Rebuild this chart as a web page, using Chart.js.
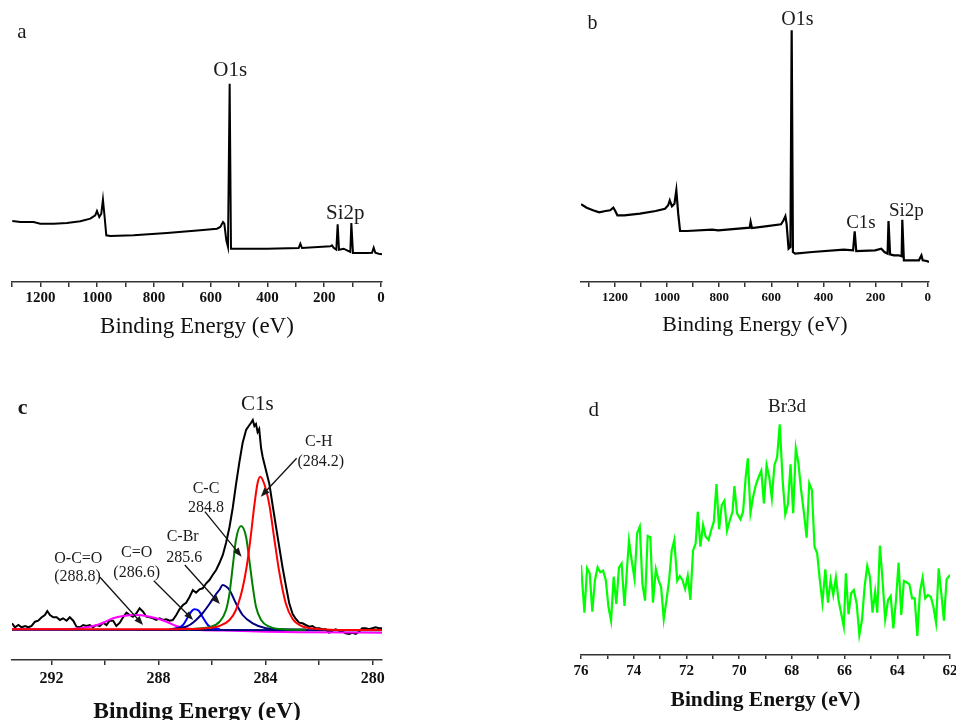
<!DOCTYPE html>
<html>
<head>
<meta charset="utf-8">
<title>XPS spectra</title>
<script src="https://cdn.jsdelivr.net/npm/chart.js@4.4.1/dist/chart.umd.min.js"></script>
<style>
  html, body { margin: 0; padding: 0; background: #fff; }
  #page { position: relative; width: 956px; height: 720px; overflow: hidden; background: #fff; }
  canvas { position: absolute; }
</style>
</head>
<body>
<div id="page">
  <canvas id="panelA" width="478" height="345" style="left:0;top:0"></canvas>
  <canvas id="panelB" width="485" height="345" style="left:478px;top:0"></canvas>
  <canvas id="panelC" width="478" height="380" style="left:0;top:360px"></canvas>
  <canvas id="panelD" width="485" height="360" style="left:478px;top:360px"></canvas>
</div>
<script>
const SERIF = '"Liberation Serif", "Times New Roman", serif';

/* -------- a : survey spectrum -------- */
const surveyAEnergy = [1299, 1270.8, 1223.9, 1200.4, 1153.4, 1106.4, 1059.4, 1024.2, 1006.6, 1000.7, 992.5, 985.4, 979.6, 973.7, 967.8, 953.7, 871.5, 754.0, 636.6, 577.9, 566.1, 556.7, 552.0, 545.0, 539.1, 533.2, 528.5, 519.1, 401.7, 290.1, 284.2, 278.4, 178.5, 172.7, 166.8, 157.4, 152.7, 148.0, 131.5, 119.8, 108.1, 104.5, 98.7, 49.3, 31.7, 25.8, 20.0, 8.2, -3.5];
const surveyAIntensity = [61, 60, 60, 58.3, 58.3, 59, 60.7, 63.3, 66.7, 71, 65, 68.3, 82.3, 65, 46.7, 46, 46.7, 49, 51.7, 53.3, 55, 60, 58.3, 41.7, 35, 198.3, 33.3, 33.3, 33.3, 34, 38.3, 34, 35.7, 36.7, 34.3, 32.3, 57.7, 32.3, 33.3, 31.7, 30, 59, 29, 29, 29.3, 34.3, 29.3, 28.3, 27.7];
const surveyTicks = [1300, 1200, 1100, 1000, 900, 800, 700, 600, 500, 400, 300, 200, 100, 0];
const surveyTickLabels = ['', '1200', '', '1000', '', '800', '', '600', '', '400', '', '200', '', '0'];

/* -------- b : survey spectrum -------- */
const surveyBEnergy = [1329.8, 1308.2, 1284.1, 1260.1, 1236.0, 1218.0, 1206.0, 1200.0, 1190.3, 1163.9, 1103.8, 1043.6, 1007.6, 995.6, 989.5, 981.1, 971.5, 964.3, 957.1, 949.9, 923.4, 827.2, 803.2, 682.9, 679.3, 674.5, 622.8, 562.7, 553.1, 545.9, 541.1, 533.8, 526.6, 521.8, 517.0, 508.6, 442.5, 322.2, 286.2, 280.1, 274.1, 202.0, 177.9, 165.9, 153.9, 150.3, 144.3, 129.9, 111.8, 99.8, 97.4, 91.4, 33.7, 24.0, 19.2, 3.6, -4.8];
const surveyBIntensity = [77.7, 74.3, 71.7, 69.7, 71, 71.7, 74.3, 71.7, 66.7, 66.7, 68.3, 71, 73.3, 76.7, 81.7, 75.7, 78.3, 91.7, 68.3, 51, 51, 52.3, 51.7, 54.3, 60, 54, 55.7, 57.7, 61.7, 65.7, 57.7, 33.3, 35, 251.7, 30, 28.3, 30, 32.3, 31.7, 50.7, 31, 31.7, 33.3, 30, 28.3, 61, 27.7, 26.7, 26.7, 25.7, 62.3, 21.7, 21.7, 26.7, 21.7, 21, 20];

/* -------- c : C1s high resolution + fitted components -------- */
const c1sEnergy = [293.48, 293.37, 293.24, 293.12, 292.99, 292.87, 292.75, 292.62, 292.50, 292.37, 292.25, 292.16, 292.06, 291.94, 291.81, 291.69, 291.57, 291.44, 291.32, 291.19, 291.07, 290.94, 290.82, 290.70, 290.57, 290.45, 290.32, 290.20, 290.07, 289.95, 289.83, 289.70, 289.58, 289.45, 289.33, 289.20, 289.08, 288.96, 288.83, 288.71, 288.58, 288.46, 288.34, 288.21, 288.09, 287.96, 287.84, 287.71, 287.59, 287.47, 287.34, 287.22, 287.09, 286.97, 286.84, 286.72, 286.60, 286.47, 286.35, 286.22, 286.10, 285.98, 285.85, 285.73, 285.60, 285.48, 285.35, 285.23, 285.11, 284.98, 284.86, 284.73, 284.63, 284.55, 284.48, 284.42, 284.36, 284.30, 284.24, 284.17, 284.11, 283.99, 283.86, 283.74, 283.61, 283.49, 283.37, 283.24, 283.12, 282.99, 282.87, 282.75, 282.62, 282.50, 282.37, 282.25, 282.12, 282.00, 281.88, 281.75, 281.63, 281.50, 281.38, 281.25, 281.13, 281.01, 280.88, 280.76, 280.63, 280.51, 280.39, 280.26, 280.14, 280.01, 279.89, 279.76, 279.65];
const c1sIntensity = [36.7, 32.7, 35.0, 32.7, 34.0, 32.7, 34.0, 38.3, 39.3, 42.7, 45.0, 49.0, 45.0, 42.7, 42.7, 40.0, 41.7, 39.3, 42.7, 39.3, 33.3, 32.7, 35.0, 34.0, 35.0, 32.7, 35.0, 34.0, 37.3, 35.0, 39.3, 39.3, 34.0, 37.3, 42.7, 47.3, 45.0, 43.3, 46.7, 51.7, 48.3, 43.3, 42.7, 41.7, 40.0, 41.7, 40.0, 40.7, 39.3, 40.0, 45.0, 50.7, 55.0, 57.3, 63.3, 70.0, 67.3, 70.7, 71.7, 76.7, 80.0, 85.0, 90.0, 96.7, 105.0, 117.0, 133.0, 152.0, 175.0, 198.0, 217.0, 230.0, 234.0, 237.0, 240.0, 234.0, 236.0, 228.0, 231.0, 212.0, 203.0, 190.0, 176.0, 155.0, 133.0, 113.0, 93.0, 74.0, 57.0, 46.0, 41.0, 37.3, 36.7, 35.0, 33.3, 34.0, 31.7, 31.7, 30.7, 30.7, 27.3, 29.3, 30.7, 29.3, 28.3, 26.7, 26.0, 27.3, 26.0, 28.3, 31.7, 31.7, 30.7, 31.7, 32.7, 31.7, 31.7];

const chEnergy = [293.48, 287.50, 286.97, 286.22, 285.73, 285.35, 285.11, 284.86, 284.67, 284.55, 284.42, 284.30, 284.20, 284.05, 283.86, 283.68, 283.49, 283.24, 282.99, 282.62, 282.25, 281.75, 281.00, 279.65];
const chIntensity = [30.7, 30.7, 31.0, 31.7, 34.0, 40.0, 50.0, 72.0, 100.0, 125.0, 155.0, 177.0, 183.3, 176.0, 155.0, 122.0, 88.0, 56.0, 41.0, 33.5, 31.5, 30.5, 30.0, 30.0];

const ccEnergy = [287.00, 286.10, 285.73, 285.48, 285.35, 285.23, 285.11, 284.92, 284.73, 284.61, 284.48, 284.36, 284.17, 283.86, 283.37, 282.50];
const ccIntensity = [30.7, 33.0, 38.0, 50.0, 66.7, 93.3, 120.0, 134.0, 123.0, 100.0, 73.3, 53.3, 40.0, 33.3, 30.7, 30.3];

const cbrEnergy = [287.50, 287.09, 286.84, 286.60, 286.35, 286.10, 285.85, 285.73, 285.60, 285.48, 285.35, 285.11, 284.86, 284.48, 283.99, 283.50, 282.50];
const cbrIntensity = [31.0, 32.5, 35.0, 40.0, 47.0, 56.0, 66.0, 70.0, 75.0, 73.5, 70.0, 56.7, 45.0, 36.7, 31.7, 30.7, 30.5];

const coEnergy = [287.60, 287.28, 287.09, 286.91, 286.75, 286.66, 286.50, 286.35, 286.16, 285.98, 285.70];
const coIntensity = [30.7, 31.7, 35.0, 42.7, 49.3, 50.7, 49.3, 42.7, 35.0, 31.7, 30.7];

const ocoEnergy = [293.48, 291.44, 290.94, 290.45, 290.07, 289.70, 289.33, 288.83, 288.46, 288.09, 287.71, 287.34, 286.97, 286.47, 285.23, 283.99, 282.75, 279.65];
const ocoIntensity = [30.7, 30.7, 31.7, 34.0, 37.3, 41.7, 44.0, 45.0, 44.0, 41.7, 38.3, 34.0, 31.7, 30.0, 29.3, 28.3, 27.7, 27.3];

const bgEnergy = [293.48, 279.65];
const bgIntensity = [30.3, 29.8];

const c1sTicks = [292, 290, 288, 286, 284, 282, 280];
const c1sTickLabels = ['292', '', '288', '', '284', '', '280'];

/* -------- d : Br3d high resolution -------- */
const br3dEnergy = [76.00, 75.87, 75.77, 75.67, 75.57, 75.47, 75.37, 75.27, 75.16, 75.06, 74.96, 74.86, 74.76, 74.66, 74.56, 74.46, 74.35, 74.25, 74.18, 74.08, 73.97, 73.87, 73.77, 73.67, 73.57, 73.47, 73.37, 73.27, 73.16, 73.06, 72.96, 72.86, 72.76, 72.66, 72.56, 72.46, 72.35, 72.25, 72.15, 72.05, 71.95, 71.85, 71.75, 71.65, 71.57, 71.47, 71.37, 71.27, 71.16, 71.06, 70.96, 70.86, 70.76, 70.66, 70.56, 70.46, 70.35, 70.25, 70.18, 70.08, 69.95, 69.85, 69.75, 69.67, 69.57, 69.47, 69.37, 69.27, 69.16, 69.06, 68.96, 68.86, 68.76, 68.66, 68.56, 68.46, 68.35, 68.25, 68.15, 68.05, 67.95, 67.85, 67.75, 67.65, 67.54, 67.44, 67.34, 67.24, 67.14, 67.04, 66.94, 66.84, 66.73, 66.63, 66.53, 66.43, 66.33, 66.23, 66.13, 66.03, 65.95, 65.85, 65.75, 65.65, 65.54, 65.44, 65.34, 65.24, 65.14, 65.04, 64.94, 64.84, 64.76, 64.66, 64.56, 64.46, 64.35, 64.25, 64.15, 64.05, 63.95, 63.85, 63.75, 63.65, 63.54, 63.44, 63.34, 63.24, 63.14, 63.04, 62.94, 62.84, 62.73, 62.63, 62.53, 62.43, 62.33, 62.23, 62.13, 62.00];
const br3dIntensity = [90, 42.3, 86.7, 81.7, 43.3, 75, 87.7, 82.7, 84.3, 75, 48.3, 34.3, 78.3, 51, 87.3, 91.3, 49, 88.3, 114.3, 95, 76.3, 121.7, 128.3, 71, 54.3, 119, 117.7, 52.3, 85.7, 75, 67.7, 35.7, 54.3, 74, 104.3, 115, 74.3, 79, 75, 66, 79, 55, 104.3, 111.7, 143.3, 108.3, 130, 118.3, 115, 125, 133.3, 171, 125.7, 150, 154.3, 124.3, 135, 143.3, 169, 141.7, 135.7, 143.3, 178.3, 196.7, 142.3, 158.3, 169.7, 177.3, 184.3, 151.7, 190, 178.3, 156.7, 190, 197.7, 230.7, 175, 140.7, 151, 190.7, 141.7, 206.7, 191.7, 165, 141.7, 117.3, 171.7, 165, 108.3, 101.7, 75, 52.3, 85.7, 52.3, 75, 60, 77.7, 55, 41.7, 28.3, 81.7, 40.7, 61.7, 65, 51, 20, 35, 68.3, 89, 78.3, 42.3, 63.3, 42.3, 109.3, 75, 35.7, 55, 59, 26.7, 55, 92.3, 40, 74, 72.7, 70.7, 56.7, 56.7, 19, 63.3, 77.3, 56.7, 60, 58.3, 48.3, 32.3, 86.7, 61.7, 34.3, 75.7, 80];
const br3dTicks = [76, 75, 74, 73, 72, 71, 70, 69, 68, 67, 66, 65, 64, 63, 62];
const br3dTickLabels = ['76', '', '74', '', '72', '', '70', '', '68', '', '66', '', '64', '', '62'];

/* -------- helpers -------- */
function pts(xs, ys) {
    return xs.map((x, i) => ({x: x, y: ys[i]}));
}

function line(xs, ys, color, width, smooth) {
    return {
        data: pts(xs, ys),
        borderColor: color,
        borderWidth: width,
        pointRadius: 0,
        fill: false,
        tension: 0,
        cubicInterpolationMode: smooth ? "monotone" : "default"
    };
}

// text labels and arrows, placed in data coordinates
function notes(labels, arrows) {
    return {
        id: "notes",
        afterDraw(chart) {
            const ctx = chart.ctx;
            const x = chart.scales.x, y = chart.scales.y;
            ctx.save();
            ctx.fillStyle = "#1a1a1a";
            ctx.strokeStyle = "#111";
            ctx.textAlign = "center";
            ctx.textBaseline = "middle";
            labels.forEach(l => {
                ctx.font = (l.bold ? "bold " : "") + l.size + "px " + SERIF;
                ctx.fillText(l.text, x.getPixelForValue(l.x), y.getPixelForValue(l.y));
            });
            arrows.forEach(a => {
                const x1 = x.getPixelForValue(a.from[0]), y1 = y.getPixelForValue(a.from[1]);
                const x2 = x.getPixelForValue(a.to[0]), y2 = y.getPixelForValue(a.to[1]);
                const ang = Math.atan2(y2 - y1, x2 - x1);
                ctx.lineWidth = 1.3;
                ctx.beginPath();
                ctx.moveTo(x1, y1);
                ctx.lineTo(x2 - 6 * Math.cos(ang), y2 - 6 * Math.sin(ang));
                ctx.stroke();
                ctx.beginPath();
                ctx.moveTo(x2, y2);
                ctx.lineTo(x2 - 9 * Math.cos(ang) + 3.5 * Math.sin(ang), y2 - 9 * Math.sin(ang) - 3.5 * Math.cos(ang));
                ctx.lineTo(x2 - 9 * Math.cos(ang) - 3.5 * Math.sin(ang), y2 - 9 * Math.sin(ang) + 3.5 * Math.cos(ang));
                ctx.closePath();
                ctx.fill();
            });
            ctx.restore();
        }
    };
}

function makePanel(id, cfg) {
    return new Chart(document.getElementById(id), {
        type: "line",
        data: {datasets: cfg.datasets},
        options: {
            responsive: false,
            animation: false,
            devicePixelRatio: 1,
            layout: {padding: cfg.padding},
            plugins: {legend: {display: false}, tooltip: {enabled: false}},
            scales: {
                x: {
                    type: "linear",
                    reverse: true,
                    bounds: "data",
                    min: cfg.min,
                    max: cfg.max,
                    afterBuildTicks: s => { s.ticks = cfg.ticks.map(v => ({value: v})); },
                    afterFit: s => { s.height = cfg.axisHeight; },
                    ticks: {
                        autoSkip: false,
                        maxRotation: 0,
                        padding: cfg.tickPad,
                        color: "#111",
                        font: {family: SERIF, size: cfg.tickSize, weight: "bold"},
                        callback: (v, i) => cfg.tickLabels[i]
                    },
                    grid: {drawOnChartArea: false, drawTicks: true, tickLength: cfg.tickLen, color: "#333", lineWidth: 1.5},
                    border: {display: true, color: "#333", width: 1.5},
                    title: {
                        display: true,
                        text: "Binding Energy (eV)",
                        color: "#111",
                        font: {family: SERIF, size: cfg.titleSize, weight: cfg.titleBold ? "bold" : "normal"},
                        padding: {top: 0, bottom: cfg.titlePad}
                    }
                },
                y: {display: false, min: 0, max: cfg.ymax}
            }
        },
        plugins: [notes(cfg.labels, cfg.arrows)]
    });
}

/* -------- panels -------- */
makePanel("panelA", {
    datasets: [line(surveyAEnergy, surveyAIntensity, "#000", 2, false)],
    padding: {left: 12, right: 96, top: 10, bottom: 0},
    min: -3.5, max: 1300, ymax: 272,
    ticks: surveyTicks, tickLabels: surveyTickLabels,
    axisHeight: 63, tickLen: 5, tickPad: 2, tickSize: 15,
    titleSize: 23, titleBold: false, titlePad: 4,
    labels: [
        {text: "a", x: 1265, y: 250, size: 21},
        {text: "O1s", x: 531, y: 212, size: 21},
        {text: "Si2p", x: 126, y: 69, size: 21}
    ],
    arrows: []
});

makePanel("panelB", {
    datasets: [line(surveyBEnergy, surveyBIntensity, "#000", 2.2, false)],
    padding: {left: 103, right: 34, top: 10, bottom: 0},
    min: -5, max: 1330, ymax: 272,
    ticks: surveyTicks, tickLabels: surveyTickLabels,
    axisHeight: 63, tickLen: 5, tickPad: 3, tickSize: 13,
    titleSize: 22, titleBold: false, titlePad: 7,
    labels: [
        {text: "b", x: 1286, y: 258, size: 20},
        {text: "O1s", x: 500, y: 262, size: 20},
        {text: "C1s", x: 256, y: 59, size: 19},
        {text: "Si2p", x: 81.5, y: 71, size: 19}
    ],
    arrows: []
});

// components first so the measured C1s trace sits underneath them; baseline above the magenta peak
makePanel("panelC", {
    datasets: [
        line(chEnergy, chIntensity, "#ff0000", 2, true),
        line(ccEnergy, ccIntensity, "#008000", 2, true),
        line(cbrEnergy, cbrIntensity, "#000080", 2, true),
        line(coEnergy, coIntensity, "#0000ff", 2, true),
        line(bgEnergy, bgIntensity, "#000080", 2, false),
        line(ocoEnergy, ocoIntensity, "#ff00ff", 2, true),
        line(c1sEnergy, c1sIntensity, "#000", 2, false)
    ],
    padding: {left: 12, right: 96, top: 35, bottom: 0},
    min: 279.65, max: 293.48, ymax: 265,
    ticks: c1sTicks, tickLabels: c1sTickLabels,
    axisHeight: 80, tickLen: 5, tickPad: 4, tickSize: 16,
    titleSize: 23.5, titleBold: true, titlePad: 14,
    labels: [
        {text: "c", x: 293.08, y: 252, size: 22, bold: true},
        {text: "C1s", x: 284.31, y: 256, size: 21},
        {text: "C-H", x: 282.01, y: 218, size: 16},
        {text: "(284.2)", x: 281.94, y: 198, size: 16},
        {text: "C-C", x: 286.23, y: 171, size: 16},
        {text: "284.8", x: 286.23, y: 152, size: 16},
        {text: "C-Br", x: 287.10, y: 123, size: 16},
        {text: "285.6", x: 287.04, y: 102, size: 16},
        {text: "C=O", x: 288.82, y: 107, size: 16},
        {text: "(286.6)", x: 288.82, y: 87, size: 16},
        {text: "O-C=O", x: 291.0, y: 101, size: 16},
        {text: "(288.8)", x: 291.03, y: 83, size: 16}
    ],
    arrows: [
        {from: [282.84, 201.7], to: [284.18, 163.3]},
        {from: [286.27, 148.3], to: [284.90, 103.3]},
        {from: [287.02, 95], to: [285.71, 56]},
        {from: [288.18, 79.3], to: [286.71, 40]},
        {from: [290.19, 82.7], to: [288.58, 35]}
    ]
});

makePanel("panelD", {
    datasets: [line(br3dEnergy, br3dIntensity, "#00ff00", 2.2, false)],
    padding: {left: 103, right: 13, top: 40, bottom: 0},
    min: 62, max: 76, ymax: 255,
    ticks: br3dTicks, tickLabels: br3dTickLabels,
    axisHeight: 65, tickLen: 4, tickPad: 3, tickSize: 15,
    titleSize: 21.5, titleBold: true, titlePad: 7,
    labels: [
        {text: "d", x: 75.52, y: 245, size: 21},
        {text: "Br3d", x: 68.18, y: 248, size: 19}
    ],
    arrows: []
});
</script>
</body>
</html>
